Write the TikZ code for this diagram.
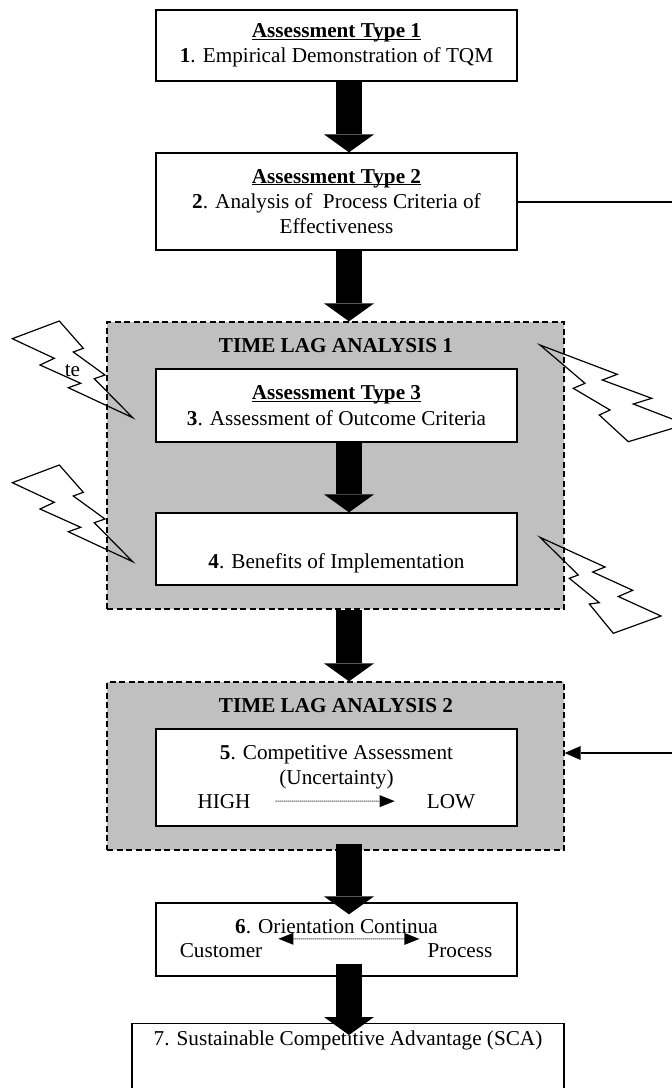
\documentclass[tikz,border=0pt]{standalone}
\usepackage{fontspec}
\setmainfont{Liberation Serif}
\usetikzlibrary{arrows.meta}

\definecolor{lagGray}{RGB}{192,192,192}
\newcommand{\figfont}{\fontsize{21.2pt}{25.4pt}\selectfont}
\newcommand{\atype}[1]{\underline{\raisebox{0pt}[\height][0pt]{\textbf{Assessment Type #1}}}}

\tikzset{
  box/.style={draw, line width=1.3pt, fill=white, align=center, minimum width=361pt},
  lagbox/.style={draw, line width=1.3pt, fill=lagGray, dash pattern=on 6pt off 3.5pt, minimum width=457pt},
  fatarrow/.style={line width=26pt, -{Triangle[length=18pt,width=50pt,line width=0pt]}},
  dotarrow/.style={line width=1pt, dash pattern=on 1pt off 1pt},
  dottip/.tip={Triangle[length=15pt,width=12pt,line width=0pt]},
  bolt/.style={line width=1.2pt, line join=miter}
}

\begin{document}
\begin{tikzpicture}[x=1pt,y=-1pt,font=\figfont]
\useasboundingbox (0,0) rectangle (672,1088);

  %time lag panels
  \node[lagbox, minimum height=287pt] (tla1) at (335.5,465.5) {};
  \node[lagbox, minimum height=168pt] (tla2) at (335.5,766) {};
  \node[anchor=base] (tl1) at (336,352) {\textbf{TIME LAG ANALYSIS 1}};
  \node[anchor=base] (tl2) at (336,712) {\textbf{TIME LAG ANALYSIS 2}};

  %assessment boxes
  \node[box, minimum height=71pt] (b1) at (336.5,45.5) {\atype{1}\\\textbf{1}. Empirical Demonstration of TQM};
  \node[box, minimum height=97pt] (b2) at (336.5,201.5) {\atype{2}\\\textbf{2}. Analysis of~ Process Criteria of\\Effectiveness};
  \node[box, minimum height=73pt] (b3) at (336.5,405.5) {\atype{3}\\\textbf{3}. Assessment of Outcome Criteria};
  \node[box, minimum height=72pt] (b4) at (336.5,549) {\strut\\\textbf{4}. Benefits of Implementation};
  \node[box, minimum height=97pt] (b5) at (336.5,777.5) {\textbf{5}. Competitive Assessment\\(Uncertainty)\\~};
  \node[box, minimum height=73pt] (b6) at (336.5,939.5) {\textbf{6}. Orientation Continua\\~};
  \node[box, anchor=north, minimum width=432pt, text height=19pt, text depth=58pt] (b7) at (348,1023) {7. Sustainable Competitive Advantage (SCA)};

  %continua
  \node[anchor=base, inner sep=0pt] (high) at (224,808) {HIGH};
  \node[anchor=base, inner sep=0pt] (low) at (451,808) {LOW};
  \draw[dotarrow, -dottip] ([xshift=25pt]high.east) -- ([xshift=-32pt]low.west);
  \node[anchor=base, inner sep=0pt] (cust) at (221,957) {Customer};
  \node[anchor=base, inner sep=0pt] (proc) at (460,957) {Process};
  \draw[dotarrow, dottip-dottip] ([shift={(16pt,4pt)}]cust.north east) -- ([shift={(-8pt,4pt)}]proc.north west);

  %flow
  \coordinate (ax) at (349,0);
  \draw[fatarrow] (b1.south -| ax) -- (b2.north -| ax);
  \draw[fatarrow] (b2.south -| ax) -- (tla1.north -| ax);
  \draw[fatarrow] (b3.south -| ax) -- (b4.north -| ax);
  \draw[fatarrow] (tla1.south -| ax) -- (tla2.north -| ax);
  \draw[fatarrow] ([yshift=7pt]tla2.south -| ax) -- ([yshift=-12pt]b6.north -| ax);
  \draw[fatarrow] ([yshift=13pt]b6.south -| ax) -- ([yshift=-12pt]b7.north -| ax);

  %feedback
  \coordinate (fb) at (672,0);
  \coordinate (fbin) at (672,753);
  \draw[line width=2pt] (b2.east) -- (b2.east -| fb);
  \draw[line width=2pt, -{Triangle[length=16pt,width=14pt,line width=0pt]}] (fbin) -- (fbin -| tla2.east);

  %bolts
  \node[anchor=base] (te) at (72.5,376) {te};
  \foreach \dy in {0,144}
    \draw[bolt, shift={(0,\dy)}] (12.3,338.7) -- (59.3,321) -- (83.3,348.3) -- (73.3,352) -- (105,375)
      -- (94.3,378.7) -- (132.7,417.7) -- (68.3,387.7) -- (80.7,383.3) -- (40,365) -- (54.3,358.3) -- cycle;
  \draw[bolt] (540,345) -- (617.3,374.3) -- (602.3,380) -- (651.7,398.3) -- (633.3,404) -- (686,424.3)
    -- (628.3,441.7) -- (599.3,415) -- (610,410) -- (573.3,388.3) -- (585,383.3) -- cycle;
  \draw[bolt] (540,537.3) -- (605,567) -- (592.7,572) -- (632.7,590.3) -- (618.3,596.5) -- (661,616)
    -- (613.3,633.3) -- (589.3,604) -- (599.3,602.7) -- (569.3,578.3) -- (578.3,575) -- cycle;
\end{tikzpicture}
\end{document}
